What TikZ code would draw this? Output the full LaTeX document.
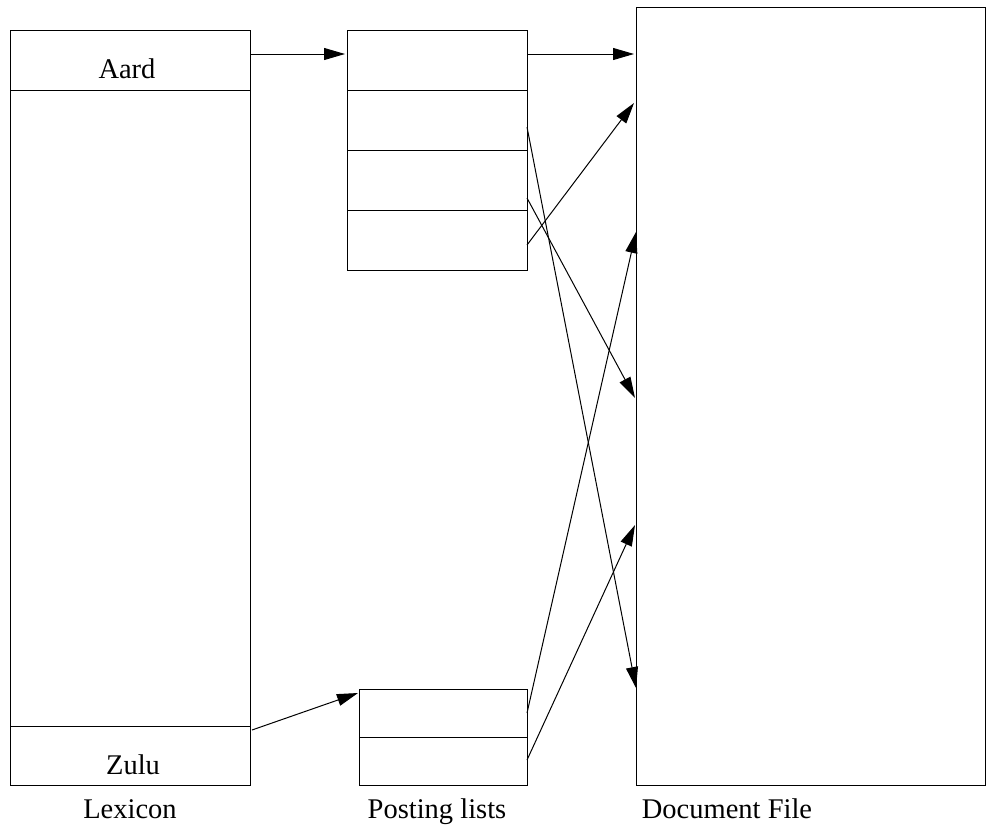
\documentclass[tikz,border=0pt]{standalone}
\usepackage{fontspec}
\setmainfont{Liberation Serif}
\usetikzlibrary{arrows.meta,calc}
\begin{document}
\begin{tikzpicture}[x=1pt,y=-1pt,
  cell/.style={draw,line width=1pt,inner sep=0pt,outer sep=0pt},
  word/.style={anchor=base,inner sep=0pt,font=\fontsize{28.5pt}{31pt}\selectfont},
  conn/.style={line width=1pt,-{Triangle[length=21pt,width=12pt]}}]
\useasboundingbox (0,0) rectangle (1000,838);

% Lexicon
\node[cell,minimum width=240pt,minimum height=60pt]  (aard) at (130,60)  {};
\node[cell,minimum width=240pt,minimum height=636pt] (lexmid) at (130,408) {};
\node[cell,minimum width=240pt,minimum height=59pt]  (zulu) at (130,755.5) {};
\node[word] (aardtxt) at (127,78) {Aard};
\node[word] (zulutxt) at (133,774) {Zulu};

% Posting lists
\node[cell,minimum width=180pt,minimum height=60pt] (p1) at (437,60)  {};
\node[cell,minimum width=180pt,minimum height=60pt] (p2) at (437,120) {};
\node[cell,minimum width=180pt,minimum height=60pt] (p3) at (437,180) {};
\node[cell,minimum width=180pt,minimum height=60pt] (p4) at (437,240) {};
\node[cell,minimum width=168pt,minimum height=48pt] (q1) at (443,713) {};
\node[cell,minimum width=168pt,minimum height=48pt] (q2) at (443,761) {};

% Document file
\node[cell,minimum width=349pt,minimum height=778pt] (doc) at (810.5,396) {};

% Targets on the document file
\coordinate (d1) at ($(doc.north west)+(-2,47)$);
\coordinate (d2) at ($(doc.north west)+(-2,96)$);
\coordinate (d3) at ($(doc.north west)+(0,225)$);
\coordinate (d4) at ($(doc.north west)+(-1,391)$);
\coordinate (d5) at ($(doc.north west)+(-1,518)$);
\coordinate (d6) at ($(doc.north west)+(0,681)$);

% Connectors
\draw[conn] ($(aard.east)+(0,-6)$) -- ($(p1.west)+(-2,-6)$);
\draw[conn] ($(p1.east)+(0,-6)$) -- (d1);
\draw[conn] ($(p2.east)+(0,7)$) -- (d6);
\draw[conn] ($(p3.east)+(0,18)$) -- (d4);
\draw[conn] ($(p4.east)+(0,5)$) -- (d2);
\draw[conn] ($(zulu.north east)+(2,4)$) -- ($(q1.north west)+(-1,4)$);
\draw[conn] (q1.east) -- (d3);
\draw[conn] ($(q2.east)+(0,-1)$) -- (d5);

% Column labels
\node[word] (lexlabel) at (130,818) {Lexicon};
\node[word] (postlabel) at (437,818) {Posting lists};
\node[word] (doclabel) at (727,818) {Document File};
\end{tikzpicture}
\end{document}
